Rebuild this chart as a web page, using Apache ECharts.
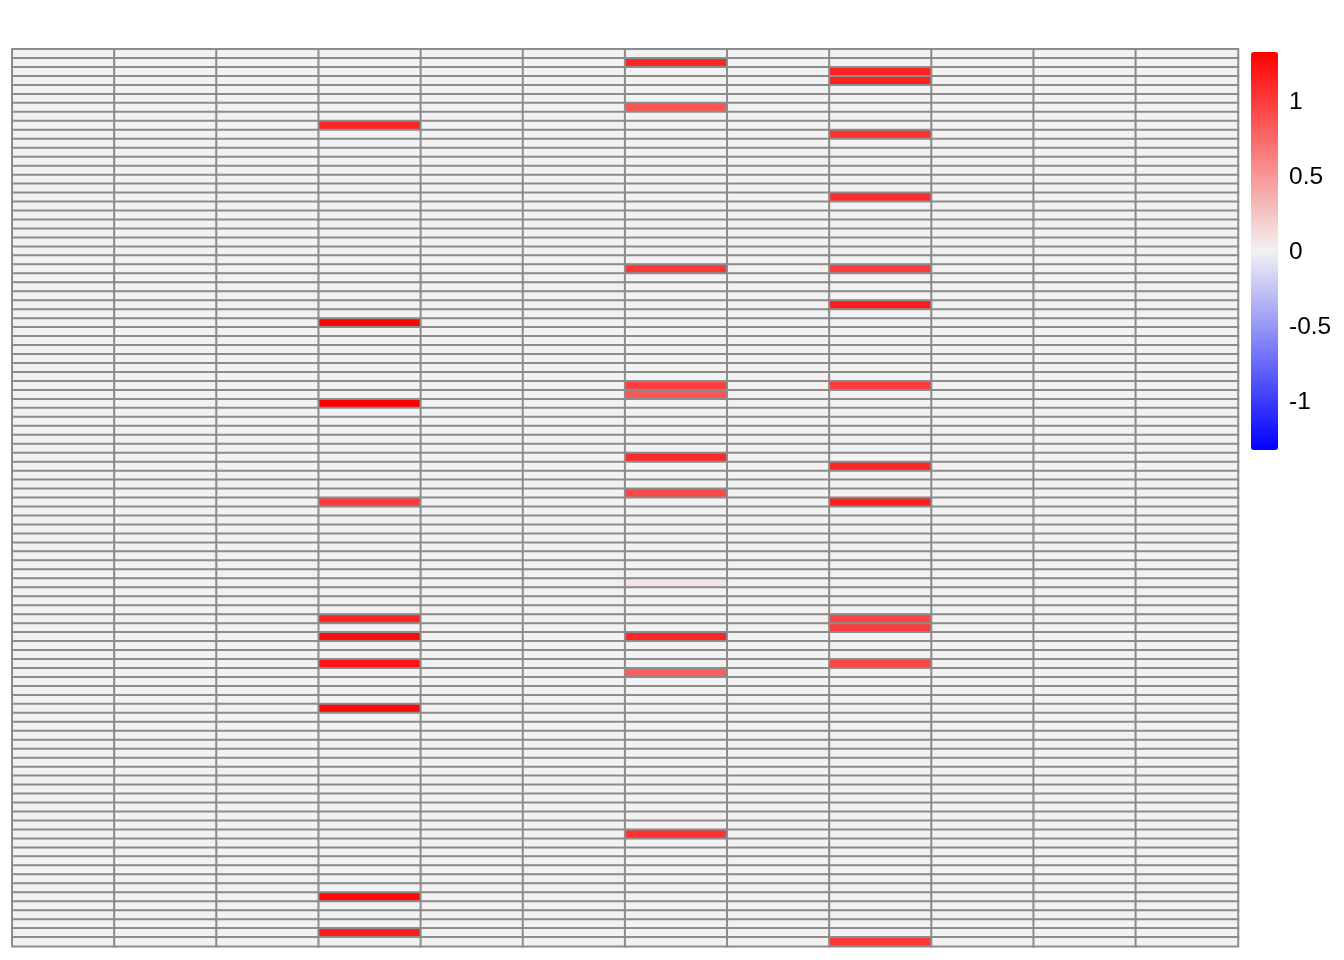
<!DOCTYPE html>
<html><head><meta charset="utf-8">
<script src="https://cdn.jsdelivr.net/npm/echarts@6/dist/echarts.min.js"></script>
<style>html,body{margin:0;padding:0;background:#fff}#c{width:1344px;height:960px}</style>
</head><body><div id="c"></div>
<script>
// Columns (no labels drawn in the reference) and row count
const columnNames = ['C1','C2','C3','C4','C5','C6','C7','C8','C9','C10','C11','C12'];
const rowNames = Array.from({length: 100}, (_, i) => 'R' + (i + 1));

// Non-zero cells (all other cells are 0)
const col4Rows   = [8, 30, 39, 50, 63, 65, 68, 73, 94, 98];
const col4Values = [1.12, 1.30, 1.33, 1.00, 1.13, 1.27, 1.22, 1.27, 1.28, 1.17];
const col7Rows   = [1, 6, 24, 37, 38, 45, 49, 59, 65, 69, 87];
const col7Values = [1.12, 0.87, 1.03, 0.98, 0.86, 1.10, 0.93, 0.07, 1.12, 0.80, 1.05];
const col9Rows   = [2, 3, 9, 16, 24, 28, 37, 46, 50, 63, 64, 68, 99];
const col9Values = [1.15, 1.15, 1.05, 1.08, 1.00, 1.18, 1.00, 1.12, 1.16, 0.95, 1.00, 0.95, 1.02];

// Colour scale and legend ticks
const scaleMin = -1.33, scaleMax = 1.33;
const legendTicks = [-1, -0.5, 0, 0.5, 1];
const paletteColors = ['#0000FF', '#F2F2F2', '#FF0000'];

// Build the cell table
const cells = [];
const grid = columnNames.map(() => rowNames.map(() => 0));
[[3, col4Rows, col4Values], [6, col7Rows, col7Values], [8, col9Rows, col9Values]].forEach(([c, rows, vals]) => {
  rows.forEach((r, i) => { grid[c][r] = vals[i]; });
});
for (let c = 0; c < columnNames.length; c++) {
  for (let r = 0; r < rowNames.length; r++) cells.push([c, r, grid[c][r]]);
}

const chart = echarts.init(document.getElementById('c'), null, {renderer: 'canvas'});
chart.setOption({
  backgroundColor: '#ffffff',
  animation: false,
  grid: [
    {left: 12.3, top: 49.3, width: 1225.7, height: 897},
    {left: 1251, top: 53.2, width: 27, height: 398}
  ],
  xAxis: [
    {type: 'category', data: columnNames, gridIndex: 0, show: false},
    {type: 'value', gridIndex: 1, show: false, min: 0, max: 1}
  ],
  yAxis: [
    {type: 'category', data: rowNames, gridIndex: 0, inverse: true, show: false},
    {type: 'value', gridIndex: 1, min: scaleMin, max: scaleMax, position: 'right',
     axisLine: {show: false}, axisTick: {show: false}, splitLine: {show: false},
     axisLabel: {show: true, customValues: legendTicks, margin: 11, fontSize: 24.5,
       color: '#000', fontFamily: 'Liberation Sans, Arial, Helvetica, sans-serif',
       formatter: v => String(v)}}
  ],
  visualMap: {
    type: 'continuous', min: scaleMin, max: scaleMax, seriesIndex: 0,
    inRange: {color: paletteColors},
    orient: 'vertical', left: 1251, top: 52, itemWidth: 27, itemHeight: 398,
    calculable: false, padding: 0, hoverLink: false, text: null
  },
  series: [{
    type: 'heatmap', xAxisIndex: 0, yAxisIndex: 0, data: cells,
    itemStyle: {borderColor: '#8C8C8C', borderWidth: 2},
    emphasis: {disabled: true},
    progressive: 0
  }]
});
</script></body></html>
